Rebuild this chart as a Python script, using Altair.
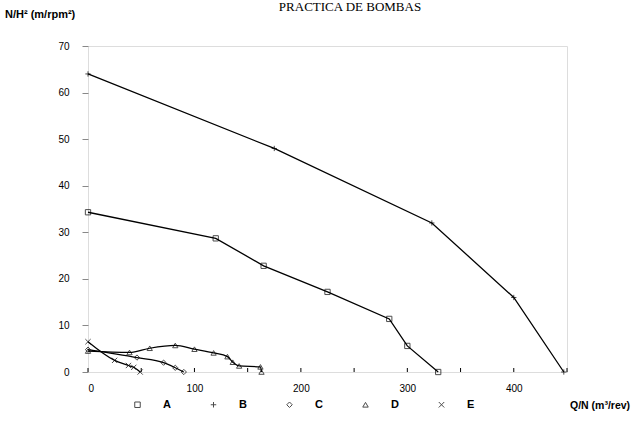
import altair as alt
import pandas as pd

series = ["A", "B", "C", "D", "E"]

A_x = [0, 120, 165, 225, 283, 300, 329]
A_y = [34.3, 28.7, 22.8, 17.2, 11.4, 5.6, 0]

B_x = [0, 175, 323, 400, 447]
B_y = [64, 48, 32, 16, 0]

C_x = [0, 46, 71, 82, 90]
C_y = [4.8, 3.1, 2.0, 0.9, 0]

D_x = [0, 39, 58, 82, 100, 118, 131, 136, 142, 162, 163]
D_y = [4.5, 4.2, 5.1, 5.7, 4.9, 4.1, 3.3, 2.1, 1.3, 1.1, 0]

E_x = [0, 25, 38, 43, 49]
E_y = [6.5, 2.5, 1.4, 1.0, 0]

x_labels = [0, 100, 200, 300, 400]
x_ticks = [0, 50, 100, 150, 200, 250, 300, 350, 400, 450]
y_ticks = [0, 10, 20, 30, 40, 50, 60, 70]

title_text = "PRACTICA DE BOMBAS"
y_title = "N/H² (m/rpm²)"
x_title = "Q/N (m³/rev)"

rows = []
for name, xs, ys in zip(series, [A_x, B_x, C_x, D_x, E_x], [A_y, B_y, C_y, D_y, E_y]):
    for xv, yv in zip(xs, ys):
        rows.append({"series": name, "q": xv, "h": yv})
df = pd.DataFrame(rows)

W, H = 479, 326
FONT = "Liberation Sans"

plus = "M-1,0L1,0M0,-1L0,1"
xmark = "M-1,-1L1,1M-1,1L1,-1"
shape_scale = alt.Scale(domain=series, range=["square", plus, "diamond", "triangle-up", xmark])

xscale = alt.Scale(domain=[0, 450], nice=False, zero=False)
yscale = alt.Scale(domain=[0, 70], nice=False)

x_enc = alt.X("q:Q", scale=xscale,
              axis=alt.Axis(values=x_labels, title=None, tickSize=0, labelPadding=11,
                            grid=False, domain=False))
y_enc = alt.Y("h:Q", scale=yscale,
              axis=alt.Axis(values=y_ticks, title=None, tickSize=6, labelPadding=13,
                            grid=False, domain=False))

base = alt.Chart(df)

lin = base.transform_filter(
    alt.FieldOneOfPredicate(field="series", oneOf=["A", "B"])
).mark_line(color="black", strokeWidth=1.3).encode(x=x_enc, y=y_enc, detail="series:N")

smooth = base.transform_filter(
    alt.FieldOneOfPredicate(field="series", oneOf=["C", "D", "E"])
).mark_line(color="black", strokeWidth=1.2, interpolate="monotone").encode(
    x=x_enc, y=y_enc, detail="series:N")

pts = base.mark_point(filled=False, color="black", size=28, strokeWidth=1).encode(
    x=x_enc, y=y_enc,
    shape=alt.Shape("series:N", scale=shape_scale,
                    legend=alt.Legend(orient="none", legendX=44, legendY=353,
                                      direction="horizontal", title=None,
                                      labelFont=FONT, labelFontWeight="bold",
                                      labelFontSize=11, labelColor="black",
                                      symbolStrokeColor="black", symbolSize=30,
                                      symbolStrokeWidth=1, labelOffset=20,
                                      columnPadding=37)))

tick_df = pd.DataFrame({"q": x_ticks})
inner_ticks = alt.Chart(tick_df).mark_rule(color="black", strokeWidth=1).encode(
    x=alt.X("q:Q", scale=xscale),
    y=alt.value(H), y2=alt.value(H - 4),
)

title_mark = alt.Chart(pd.DataFrame({"t": [title_text]})).mark_text(
    font="Liberation Serif", fontSize=13, color="black", align="center", baseline="top"
).encode(text="t:N", x=alt.value(262), y=alt.value(-45))

ytitle_mark = alt.Chart(pd.DataFrame({"t": [y_title]})).mark_text(
    font=FONT, fontSize=11, fontWeight="bold", color="black", align="left", baseline="middle"
).encode(text="t:N", x=alt.value(-83), y=alt.value(-31))

xtitle_mark = alt.Chart(pd.DataFrame({"t": [x_title]})).mark_text(
    font=FONT, fontSize=10.5, fontWeight="bold", color="black", align="left", baseline="middle"
).encode(text="t:N", x=alt.value(482), y=alt.value(H + 34))

chart = alt.layer(lin, smooth, pts, inner_ticks, title_mark, ytitle_mark, xtitle_mark).properties(
    width=W, height=H,
    autosize=alt.AutoSizeParams(type="none"),
    padding={"left": 88, "top": 46, "right": 65, "bottom": 56},
).configure_view(
    stroke="black", strokeWidth=1.5
).configure_axis(
    labelFont=FONT, labelFontWeight="bold", labelFontSize=11, labelColor="black",
    tickColor="black", domainColor="black"
).configure(background="white")

chart.save("out.html", embed_options={"renderer": "svg", "actions": False})
